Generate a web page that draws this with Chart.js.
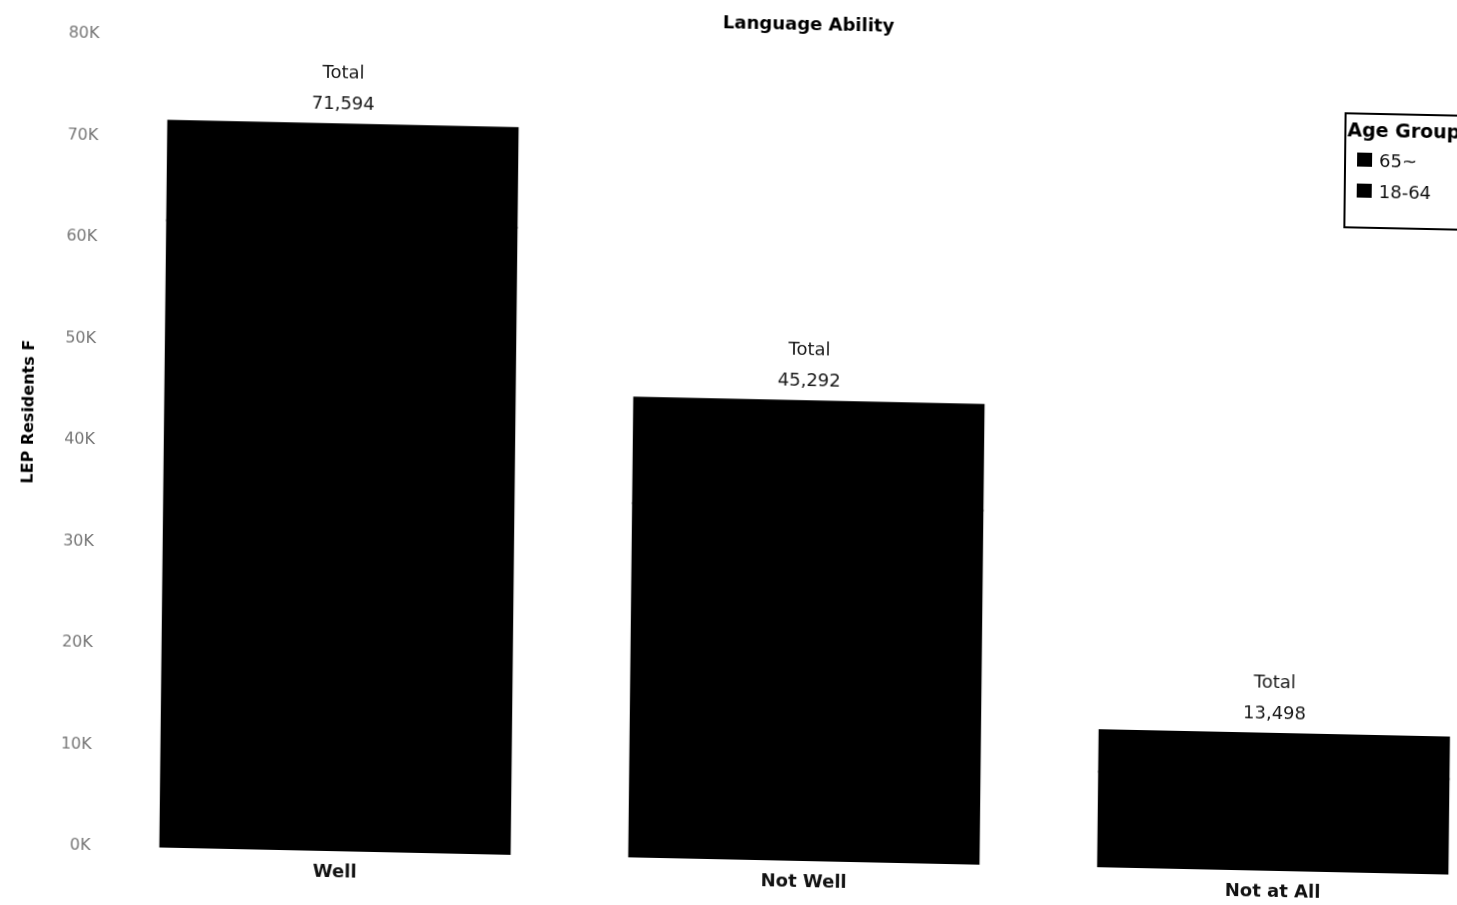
<!DOCTYPE html>
<html>
<head>
<meta charset="utf-8">
<script src="https://cdn.jsdelivr.net/npm/chart.js@4/dist/chart.umd.min.js"></script>
<style>
    html, body { margin: 0; padding: 0; background: #fff; overflow: hidden; }
    /* the printed page sits slightly skewed */
    #wrap {
        position: absolute; left: 0; top: 0;
        width: 1620px; height: 930px;
        transform-origin: 0 0;
        transform: matrix(1, 0.021, -0.011, 1, 0, -15);
    }
</style>
</head>
<body>
<div id="wrap"><canvas id="chartBar" width="1620" height="930"></canvas></div>
<script>
'use strict';

const abilities = ['Well', 'Not Well', 'Not at All'];
const ageGroups = ['65~', '18-64'];
const seniors = [9800, 10400, 4100];
const adults = [61794, 34892, 9398];
const tickValues = [0, 10000, 20000, 30000, 40000, 50000, 60000, 70000, 80000];

const FONT = '"DejaVu Sans", sans-serif';

// totals above each stack, title, axis title and the boxed legend
const overlay = {
    id: 'overlay',
    afterDatasetsDraw(chart) {
        const ctx = chart.ctx;
        const metaTop = chart.getDatasetMeta(1);
        ctx.save();
        ctx.fillStyle = '#1a1a1a';
        ctx.textAlign = 'center';
        ctx.textBaseline = 'middle';
        ctx.font = '18px ' + FONT;
        metaTop.data.forEach((bar, i) => {
            const total = chart.data.datasets.reduce((s, d) => s + d.data[i], 0);
            ctx.fillText('Total', bar.x, bar.y - 51);
            ctx.fillText(total.toLocaleString('en-US'), bar.x, bar.y - 20);
        });

        ctx.fillStyle = '#000';
        ctx.font = 'bold 18px ' + FONT;
        ctx.fillText('Language Ability', 809, 23);

        ctx.save();
        ctx.translate(34, 426);
        ctx.rotate(-Math.PI / 2);
        ctx.font = 'bold 16px ' + FONT;
        ctx.fillText('LEP Residents F', 0, 0);
        ctx.restore();

        // legend box, 65~ listed first
        const lx = 1347, ly = 100;
        ctx.lineWidth = 2;
        ctx.strokeStyle = '#000';
        ctx.strokeRect(lx, ly, 150, 114);
        ctx.textAlign = 'left';
        ctx.font = 'bold 19px ' + FONT;
        ctx.fillText('Age Group', lx + 2, ly + 18);
        ctx.font = '18px ' + FONT;
        const items = chart.data.datasets.slice().reverse();
        items.forEach((d, k) => {
            const cy = ly + 46 + k * 31;
            ctx.fillStyle = d.backgroundColor;
            ctx.fillRect(lx + 12, cy - 7, 15, 14);
            ctx.fillStyle = '#111';
            ctx.fillText(d.label, lx + 34, cy + 2);
        });
        ctx.restore();
    }
};

const barStyle = {
    backgroundColor: '#000',
    borderWidth: 0,
    inflateAmount: 1,
    categoryPercentage: 1,
    barPercentage: 0.745
};

const ctx = document.getElementById('chartBar').getContext('2d');

new Chart(ctx, {
    type: 'bar',
    data: {
        labels: abilities,
        datasets: [
            Object.assign({label: ageGroups[1], data: adults}, barStyle),
            Object.assign({label: ageGroups[0], data: seniors}, barStyle)
        ]
    },
    options: {
        responsive: false,
        animation: false,
        layout: {padding: {top: 47, right: 103, bottom: 0, left: 0}},
        plugins: {
            legend: {display: false},
            title: {display: false},
            tooltip: {enabled: false}
        },
        scales: {
            x: {
                stacked: true,
                grid: {display: false, drawTicks: false},
                border: {display: false},
                ticks: {
                    padding: 11,
                    color: '#111',
                    font: {family: FONT, size: 18, weight: 'bold'}
                },
                afterFit(scale) { scale.height = 71; }
            },
            y: {
                stacked: true,
                min: 0,
                max: 80000,
                afterBuildTicks(scale) {
                    scale.ticks = tickValues.map(v => ({value: v}));
                },
                grid: {display: false, drawTicks: false},
                border: {display: false},
                ticks: {
                    padding: 10,
                    color: '#777',
                    font: {family: FONT, size: 16},
                    callback: v => (v / 1000) + 'K'
                },
                afterFit(scale) { scale.width = 110; }
            }
        }
    },
    plugins: [overlay]
});
</script>
</body>
</html>
